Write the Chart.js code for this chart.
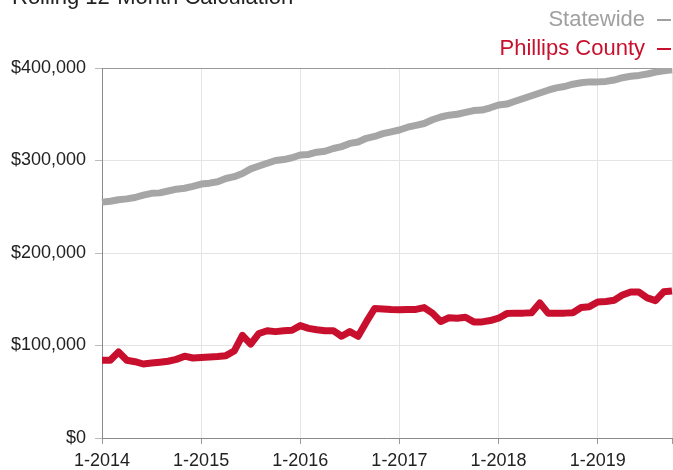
<!DOCTYPE html>
<html>
<head>
<meta charset="utf-8">
<script src="https://cdn.jsdelivr.net/npm/chart.js@4/dist/chart.umd.min.js"></script>
<style>
  html, body { margin: 0; padding: 0; background: #fff; overflow: hidden; }
  #wrap { position: relative; width: 673px; height: 470px; font-family: "Liberation Sans", Arial, sans-serif; }
  #title { position: absolute; left: 12px; top: -14px; font-size: 22px; line-height: 22px; color: #222; white-space: nowrap; }
  .leg { position: absolute; right: 28px; font-size: 22px; line-height: 22px; white-space: nowrap; }
  .dash { position: absolute; left: 657px; width: 14px; height: 2px; }
</style>
</head>
<body>
<div id="wrap">
  <canvas id="canvas" width="673" height="470"></canvas>
  <div id="title">Rolling 12-Month Calculation</div>
  <div class="leg" style="top:8px;color:#a0a0a0">Statewide</div>
  <div class="dash" style="top:19px;background:#a0a0a0"></div>
  <div class="leg" style="top:37px;color:#c8102e">Phillips County</div>
  <div class="dash" style="top:48px;background:#c8102e"></div>
</div>
<script>
// monthly labels, 1-2014 .. 10-2019
var months = []
for (var yr = 2014; yr <= 2019; yr++) {
    for (var m = 1; m <= 12; m++) {
        if (yr == 2019 && m > 10) break
        months.push(m + "-" + yr)
    }
}

// rolling 12-month median sales price, statewide
var statewide = [255000, 256000, 257500, 258500, 260000, 262500, 264500, 265000, 267000, 269000, 270000, 272000,
    274500, 275500, 277000, 280500, 282500, 286000, 291000, 294000, 297000, 300000, 301000, 303000,
    306000, 306500, 309000, 310000, 313000, 315000, 318500, 320000, 324000, 326000, 329000, 331000,
    333000, 336000, 338000, 340000, 344000, 347000, 349000, 350000, 352000, 354000, 354500, 357000,
    360000, 361000, 364000, 367000, 370000, 373000, 376000, 378500, 380000, 382500, 384000, 385000,
    385000, 385500, 387000, 389500, 391000, 392000, 393500, 395500, 397000, 398000]

// rolling 12-month median sales price, Phillips County
var phillips = [84000, 84000, 93000, 84000, 82500, 80000, 81000, 82000, 83000, 85000, 88500, 86500,
    87000, 87500, 88000, 89000, 94000, 111000, 101500, 113000, 116000, 115000, 116000, 116500,
    121500, 118500, 117000, 116000, 116000, 110000, 115000, 110000, 125500, 140000, 139500, 139000,
    138700, 139000, 139000, 141000, 135000, 126000, 130000, 129500, 130500, 125500, 125500, 127000,
    129500, 134500, 135000, 135000, 135500, 146000, 135000, 135000, 135000, 135500, 141000, 142000,
    147000, 147500, 149000, 154500, 157800, 157800, 151500, 148500, 158000, 159000]

var yTicks = [0, 100000, 200000, 300000, 400000]

var fontFam = '"Liberation Sans", Arial, sans-serif'

var lineChartData = {
    labels: months,
    datasets: [{
        label: "Statewide",
        data: statewide,
        borderColor: "#a6a6a6",
        borderWidth: 7,
        pointRadius: 0,
        tension: 0,
        borderJoinStyle: "round"
    }, {
        label: "Phillips County",
        data: phillips,
        borderColor: "#c8102e",
        borderWidth: 7,
        pointRadius: 0,
        tension: 0,
        borderJoinStyle: "round"
    }]
}

var options = {
    responsive: false,
    animation: false,
    layout: { padding: { top: 68, right: 1, left: 0, bottom: 0 } },
    plugins: { legend: { display: false }, tooltip: { enabled: false } },
    scales: {
        x: {
            type: "category",
            offset: false,
            afterFit: function (scale) {
                scale.height = 32
                scale.paddingRight = 0
                scale.paddingLeft = 0
            },
            grid: { color: "#e4e4e4", tickLength: 6, tickColor: "#999" },
            border: { color: "#8a8a8a" },
            ticks: {
                autoSkip: false,
                maxRotation: 0,
                padding: 6,
                color: "#222",
                font: { family: fontFam, size: 18 },
                callback: function (val, i) {
                    var lab = months[i]
                    if (lab.indexOf("1-") == 0) return lab
                    if (i == months.length - 1) return ""
                    return null
                }
            }
        },
        y: {
            min: 0,
            max: 400000,
            afterFit: function (scale) { scale.width = 102 },
            afterBuildTicks: function (scale) {
                scale.ticks = yTicks.map(function (v) { return { value: v } })
            },
            grid: {
                tickLength: 7,
                color: function (ctx) { return ctx.tick && ctx.tick.value == 400000 ? "#999" : "#e4e4e4" },
                tickColor: "#bbb"
            },
            border: { color: "#8a8a8a" },
            ticks: {
                padding: 9,
                color: "#222",
                font: { family: fontFam, size: 18 },
                callback: function (v) { return "$" + v.toLocaleString("en-US") }
            }
        }
    }
}

var myLine = new Chart(document.getElementById("canvas").getContext("2d"), {
    type: "line",
    data: lineChartData,
    options: options
})
</script>
</body>
</html>
